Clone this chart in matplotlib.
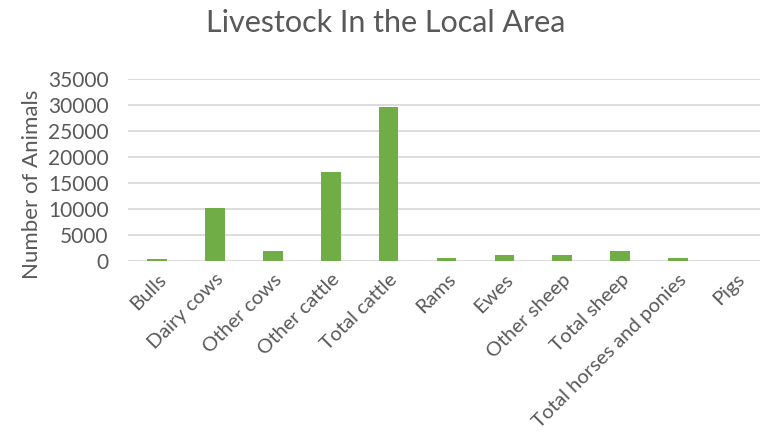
import matplotlib
matplotlib.use("Agg")
import matplotlib.pyplot as plt

categories = ["Bulls", "Dairy cows", "Other cows", "Other cattle", "Total cattle",
              "Rams", "Ewes", "Other sheep", "Total sheep",
              "Total horses and ponies", "Pigs"]
values = [450, 10200, 1850, 17150, 29700, 560, 1080, 1080, 1960, 560, 0]
yticks = [0, 5000, 10000, 15000, 20000, 25000, 30000, 35000]

plt.rcParams['font.family'] = ['Lato', 'DejaVu Sans']
text_color = "#595959"

fig = plt.figure(figsize=(7.6, 4.41), dpi=100)
# plot area runs slightly past the right edge, as in the reference
ax = fig.add_axes([128 / 760, 1 - 261 / 441, (765 - 128) / 760, (261 - 79) / 441])

x = list(range(len(categories)))
ax.bar(x, values, width=0.34, color="#70ad47", zorder=3)

ax.set_ylim(0, 35000)
ax.set_xlim(-0.5, len(categories) - 0.5)
ax.set_yticks(yticks)
ax.set_yticklabels([str(v) for v in yticks], fontsize=15, color=text_color)
ax.yaxis.grid(True, color="#d9d9d9", linewidth=1.3, zorder=0)
ax.set_axisbelow(True)
ax.tick_params(axis='both', length=0)
ax.tick_params(axis='y', pad=14)
for s in ax.spines.values():
    s.set_visible(False)

ax.set_xticks(x)
ax.set_xticklabels(categories, rotation=45, ha='right', rotation_mode='anchor',
                   fontsize=14.5, color=text_color)
ax.tick_params(axis='x', pad=7)

ax.set_ylabel("Number of Animals", fontsize=16, color=text_color)
ax.yaxis.set_label_coords(-0.135, 0.42)
fig.text(0.508, 0.948, "Livestock In the Local Area", ha='center', va='center',
         fontsize=22, color=text_color)

fig.savefig("out.png", dpi=100, facecolor="white")
